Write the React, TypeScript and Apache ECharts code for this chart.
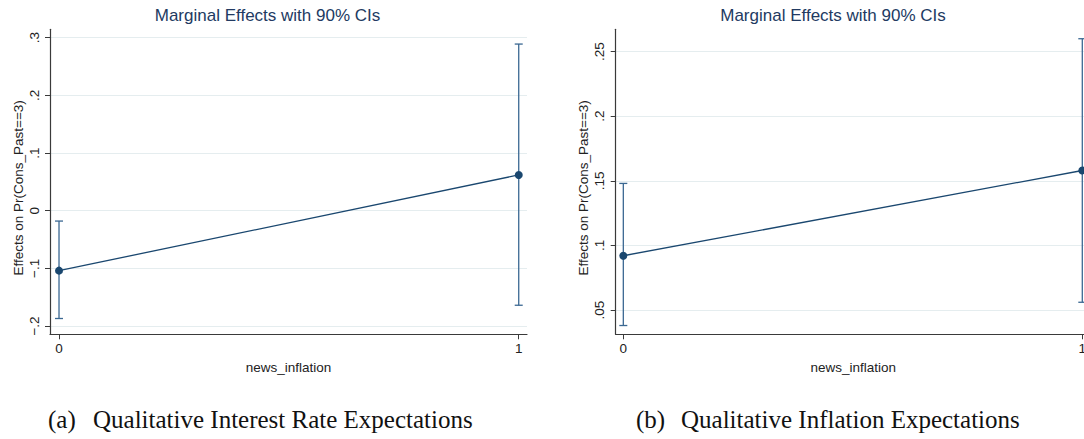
import React, { useEffect, useRef } from "react";
import * as echarts from "echarts";

// Shared labels
const chartTitle = "Marginal Effects with 90% CIs";
const xAxisTitle = "news_inflation";
const yAxisTitle = "Effects on Pr(Cons_Past==3)";
const xValues = [0, 1];
const xTicks = [0, 1];

// (a) interest rate expectations
const rateEffect = [-0.104, 0.062];
const rateLower = [-0.187, -0.164];
const rateUpper = [-0.018, 0.289];
const rateTicks = [-0.2, -0.1, 0, 0.1, 0.2, 0.3];

// (b) inflation expectations
const inflEffect = [0.092, 0.158];
const inflLower = [0.038, 0.056];
const inflUpper = [0.148, 0.26];
const inflTicks = [0.05, 0.1, 0.15, 0.2, 0.25];

const captionLabels = ["(a)", "(b)"];
const captionTexts = [
  "Qualitative Interest Rate Expectations",
  "Qualitative Inflation Expectations",
];

const NAVY = "#1a476f";
const CI_COLOR = "#3b6892";
const TITLE_COLOR = "#223a62";
const GRID_COLOR = "#e5edef";
const AXIS_COLOR = "#3a3a3a";
const SANS = "'Liberation Sans', Arial, sans-serif";
const SERIF = "'Liberation Serif', 'Times New Roman', serif";

// Stata-style tick labels: ".3", "−.1", "0"
const stataLabel = (v: number) => {
  if (v === 0) return "0";
  const s = Math.abs(v).toString().replace(/^0/, "");
  return v < 0 ? "\u2212" + s : s;
};

const renderCap = (_params: any, api: any) => {
  const x = api.value(0);
  const lo = api.coord([x, api.value(1)]);
  const hi = api.coord([x, api.value(2)]);
  const half = 4;
  const style = { stroke: CI_COLOR, lineWidth: 1.3 };
  return {
    type: "group",
    children: [
      { type: "line", shape: { x1: lo[0], y1: lo[1], x2: hi[0], y2: hi[1] }, style },
      { type: "line", shape: { x1: lo[0] - half, y1: lo[1], x2: lo[0] + half, y2: lo[1] }, style },
      { type: "line", shape: { x1: hi[0] - half, y1: hi[1], x2: hi[0] + half, y2: hi[1] }, style },
    ],
  };
};

const makeXAxis = (gridIndex: number, min: number, max: number) => ({
  type: "value",
  gridIndex,
  min,
  max,
  name: xAxisTitle,
  nameLocation: "middle",
  nameGap: 22,
  nameTextStyle: { fontFamily: SANS, fontSize: 13.5, color: "#222" },
  axisLine: { show: true, onZero: false, lineStyle: { color: AXIS_COLOR, width: 1.2 } },
  axisTick: { show: true, length: 5, customValues: xTicks, lineStyle: { color: AXIS_COLOR } },
  axisLabel: {
    customValues: xTicks,
    margin: 7,
    fontFamily: SANS,
    fontSize: 13.5,
    color: "#222",
    formatter: (v: number) => stataLabel(v),
  },
  splitLine: { show: false },
});

const makeYAxis = (gridIndex: number, min: number, max: number, ticks: number[]) => ({
  type: "value",
  gridIndex,
  min,
  max,
  name: yAxisTitle,
  nameLocation: "middle",
  nameRotate: 90,
  nameGap: 25,
  // right padding nudges the rotated title slightly downwards
  nameTextStyle: { fontFamily: SANS, fontSize: 13.5, color: "#222", padding: [0, 12, 0, 0] },
  axisLine: { show: true, onZero: false, lineStyle: { color: AXIS_COLOR, width: 1.2 } },
  axisTick: { show: true, length: 5, customValues: ticks, lineStyle: { color: AXIS_COLOR } },
  axisLabel: {
    customValues: ticks,
    rotate: 90,
    margin: 9,
    fontFamily: SANS,
    fontSize: 13.5,
    color: "#222",
    formatter: (v: number) => stataLabel(v),
  },
  splitLine: { show: true, lineStyle: { color: GRID_COLOR, width: 1.2 } },
});

const panelSeries = (idx: number, effect: number[], lower: number[], upper: number[]) => [
  {
    type: "custom",
    xAxisIndex: idx,
    yAxisIndex: idx,
    renderItem: renderCap,
    encode: { x: 0, y: [1, 2] },
    data: xValues.map((x, i) => [x, lower[i], upper[i]]),
    z: 2,
  },
  {
    type: "line",
    xAxisIndex: idx,
    yAxisIndex: idx,
    data: xValues.map((x, i) => [x, effect[i]]),
    symbol: "circle",
    symbolSize: 8,
    itemStyle: { color: NAVY },
    lineStyle: { color: NAVY, width: 1.3 },
    z: 3,
  },
];

export default function App() {
  const ref = useRef<HTMLDivElement>(null);

  useEffect(() => {
    if (!ref.current) return;
    const chart = echarts.init(ref.current, undefined, { renderer: "svg" });

    const titleText = (x: number) => ({
      type: "text",
      x,
      y: 15,
      style: {
        text: chartTitle,
        fontFamily: SANS,
        fontSize: 17,
        fill: TITLE_COLOR,
        align: "center",
        verticalAlign: "middle",
      },
    });
    const caption = (x: number, text: string) => ({
      type: "text",
      x,
      y: 419,
      style: {
        text,
        fontFamily: SERIF,
        fontSize: 25,
        fill: "#111",
        align: "left",
        verticalAlign: "middle",
      },
    });

    chart.setOption({
      animation: false,
      backgroundColor: "#ffffff",
      grid: [
        { left: 50, top: 29.3, width: 477, height: 305 },
        { left: 615.7, top: 29.3, width: 475, height: 305 },
      ],
      xAxis: [makeXAxis(0, -0.0196, 1.018), makeXAxis(1, -0.0166, 1.0183)],
      yAxis: [
        makeYAxis(0, -0.2144, 0.3146, rateTicks),
        makeYAxis(1, 0.0312, 0.2673, inflTicks),
      ],
      series: [
        ...panelSeries(0, rateEffect, rateLower, rateUpper),
        ...panelSeries(1, inflEffect, inflLower, inflUpper),
      ],
      graphic: [
        titleText(267.5),
        titleText(833),
        caption(48, captionLabels[0]),
        caption(93, captionTexts[0]),
        caption(636, captionLabels[1]),
        caption(681, captionTexts[1]),
      ],
    });

    return () => chart.dispose();
  }, []);

  return (
    <div
      style={{
        position: "fixed",
        left: 0,
        top: 0,
        width: 1084,
        height: 439,
        overflow: "hidden",
        background: "#fff",
      }}
    >
      <div ref={ref} style={{ width: 1100, height: 439 }} />
    </div>
  );
}
